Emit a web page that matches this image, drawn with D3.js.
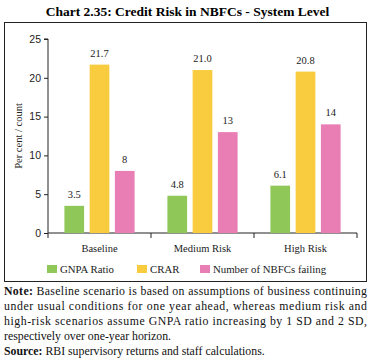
<!DOCTYPE html>
<html>
<head>
<meta charset="utf-8">
<script src="https://cdn.jsdelivr.net/npm/d3@7"></script>
<style>
  body { margin: 0; background: #fff; }
  svg { display: block; font-family: "Liberation Serif", serif; }
</style>
</head>
<body>
<div id="chart"></div>
<script>
var categories = ['Baseline', 'Medium Risk', 'High Risk'];
var series = ['GNPA Ratio', 'CRAR', 'Number of NBFCs failing'];
var gnpa = [3.5, 4.8, 6.1];
var crar = [21.7, 21.0, 20.8];
var failing = [8, 13, 14];
var labels = [['3.5', '4.8', '6.1'], ['21.7', '21.0', '20.8'], ['8', '13', '14']];
var y_ticks = [0, 5, 10, 15, 20, 25];
var colors = ['#8fc859', '#f8cc3e', '#e87eb4'];
var note_lines = [
    'Baseline scenario is based on assumptions of business continuing',
    'under usual conditions for one year ahead, whereas medium risk and',
    'high-risk scenarios assume GNPA ratio increasing by 1 SD and 2 SD,',
    'respectively over one-year horizon.'
];

function draw() {
    var width = 375, height = 363;
    var margin = {top: 39, right: 18, bottom: 130, left: 48};
    var values = [gnpa, crar, failing];

    var svg = d3.select('#chart').append('svg')
        .attr('width', width)
        .attr('height', height);

    // title
    svg.append('text')
        .attr('x', width / 2)
        .attr('y', 16)
        .attr('text-anchor', 'middle')
        .style('font-weight', 700)
        .style('font-size', '13.5px')
        .text('Chart 2.35: Credit Risk in NBFCs - System Level');

    // frame
    svg.append('rect')
        .attr('x', 4.5).attr('y', 22.5)
        .attr('width', 362).attr('height', 259)
        .attr('fill', 'none')
        .attr('stroke', '#222')
        .attr('stroke-width', 1);

    var x = d3.scaleBand()
        .domain(categories)
        .range([margin.left, width - margin.right]);

    var xs = d3.scaleBand()
        .domain(series)
        .range([0, x.bandwidth()])
        .paddingInner(0.22)
        .paddingOuter(0.65);

    var y = d3.scaleLinear()
        .domain([0, 25])
        .range([233, margin.top]);

    // y axis
    var yAxis = svg.append('g')
        .attr('transform', `translate(${margin.left}, 0)`)
        .call(d3.axisLeft(y).tickValues(y_ticks).tickSize(4).tickPadding(3));
    yAxis.select('.domain').attr('d', `M-4,${y(25)}H0V${y(0) + 5}`);
    yAxis.selectAll('text').style('font-size', '10.5px').attr('fill', '#222');
    yAxis.selectAll('line, path').attr('stroke', '#222');

    // x axis
    var xAxis = svg.append('g')
        .attr('transform', `translate(0, ${y(0)})`);
    xAxis.append('line')
        .attr('x1', margin.left).attr('x2', width - margin.right)
        .attr('stroke', '#222');
    xAxis.selectAll('.sep')
        .data(categories)
        .enter().append('line')
        .attr('x1', d => x(d) + x.bandwidth())
        .attr('x2', d => x(d) + x.bandwidth())
        .attr('y1', 0).attr('y2', 5)
        .attr('stroke', '#222');
    xAxis.selectAll('.cat')
        .data(categories)
        .enter().append('text')
        .attr('x', d => x(d) + x.bandwidth() / 2)
        .attr('y', 19)
        .attr('text-anchor', 'middle')
        .style('font-size', '10.5px')
        .attr('fill', '#222')
        .text(d => d);

    // y title
    svg.append('text')
        .attr('transform', `translate(22, ${(y(0) + y(25)) / 2}) rotate(-90)`)
        .attr('text-anchor', 'middle')
        .style('font-size', '10.5px')
        .attr('fill', '#222')
        .text('Per cent / count');

    // bars
    var bars = [];
    series.forEach(function(s, si) {
        categories.forEach(function(c, ci) {
            bars.push({series: s, si: si, cat: c, value: values[si][ci], label: labels[si][ci]});
        });
    });

    var g = svg.append('g');
    g.selectAll('rect')
        .data(bars)
        .enter().append('rect')
        .attr('x', d => x(d.cat) + xs(d.series))
        .attr('width', xs.bandwidth())
        .attr('y', d => y(d.value))
        .attr('height', d => y(0) - y(d.value))
        .attr('fill', d => colors[d.si]);

    g.selectAll('text')
        .data(bars)
        .enter().append('text')
        .attr('x', d => x(d.cat) + xs(d.series) + xs.bandwidth() / 2)
        .attr('y', d => y(d.value) - 8)
        .attr('text-anchor', 'middle')
        .style('font-size', '10.5px')
        .attr('fill', '#222')
        .text(d => d.label);

    // legend
    var legend_x = [47, 137, 200];
    var legend = svg.append('g').attr('transform', 'translate(0, 269)');
    var items = legend.selectAll('g')
        .data(series)
        .enter().append('g')
        .attr('transform', (d, i) => `translate(${legend_x[i]}, 0)`);
    items.append('rect')
        .attr('x', 0).attr('y', -4)
        .attr('width', 10).attr('height', 8)
        .attr('fill', (d, i) => colors[i]);
    items.append('text')
        .attr('x', 13).attr('y', 4)
        .style('font-size', '10.8px')
        .attr('fill', '#222')
        .text(d => d);

    // note
    var note = svg.append('g').style('font-size', '11.8px').attr('fill', '#111');
    var line_y = [295, 310, 325, 340];
    note_lines.forEach(function(line, i) {
        var t = note.append('text')
            .attr('x', 4)
            .attr('y', line_y[i]);
        if (i === 0) {
            t.append('tspan').style('font-weight', 700).text('Note: ');
            t.append('tspan').text(line);
        } else {
            t.text(line);
        }
        if (i < note_lines.length - 1) {
            t.attr('textLength', 363).attr('lengthAdjust', 'spacing');
        }
    });
    var src = note.append('text').attr('x', 4).attr('y', 355);
    src.append('tspan').style('font-weight', 700).text('Source: ');
    src.append('tspan').text('RBI supervisory returns and staff calculations.');
}

draw();
</script>
</body>
</html>
